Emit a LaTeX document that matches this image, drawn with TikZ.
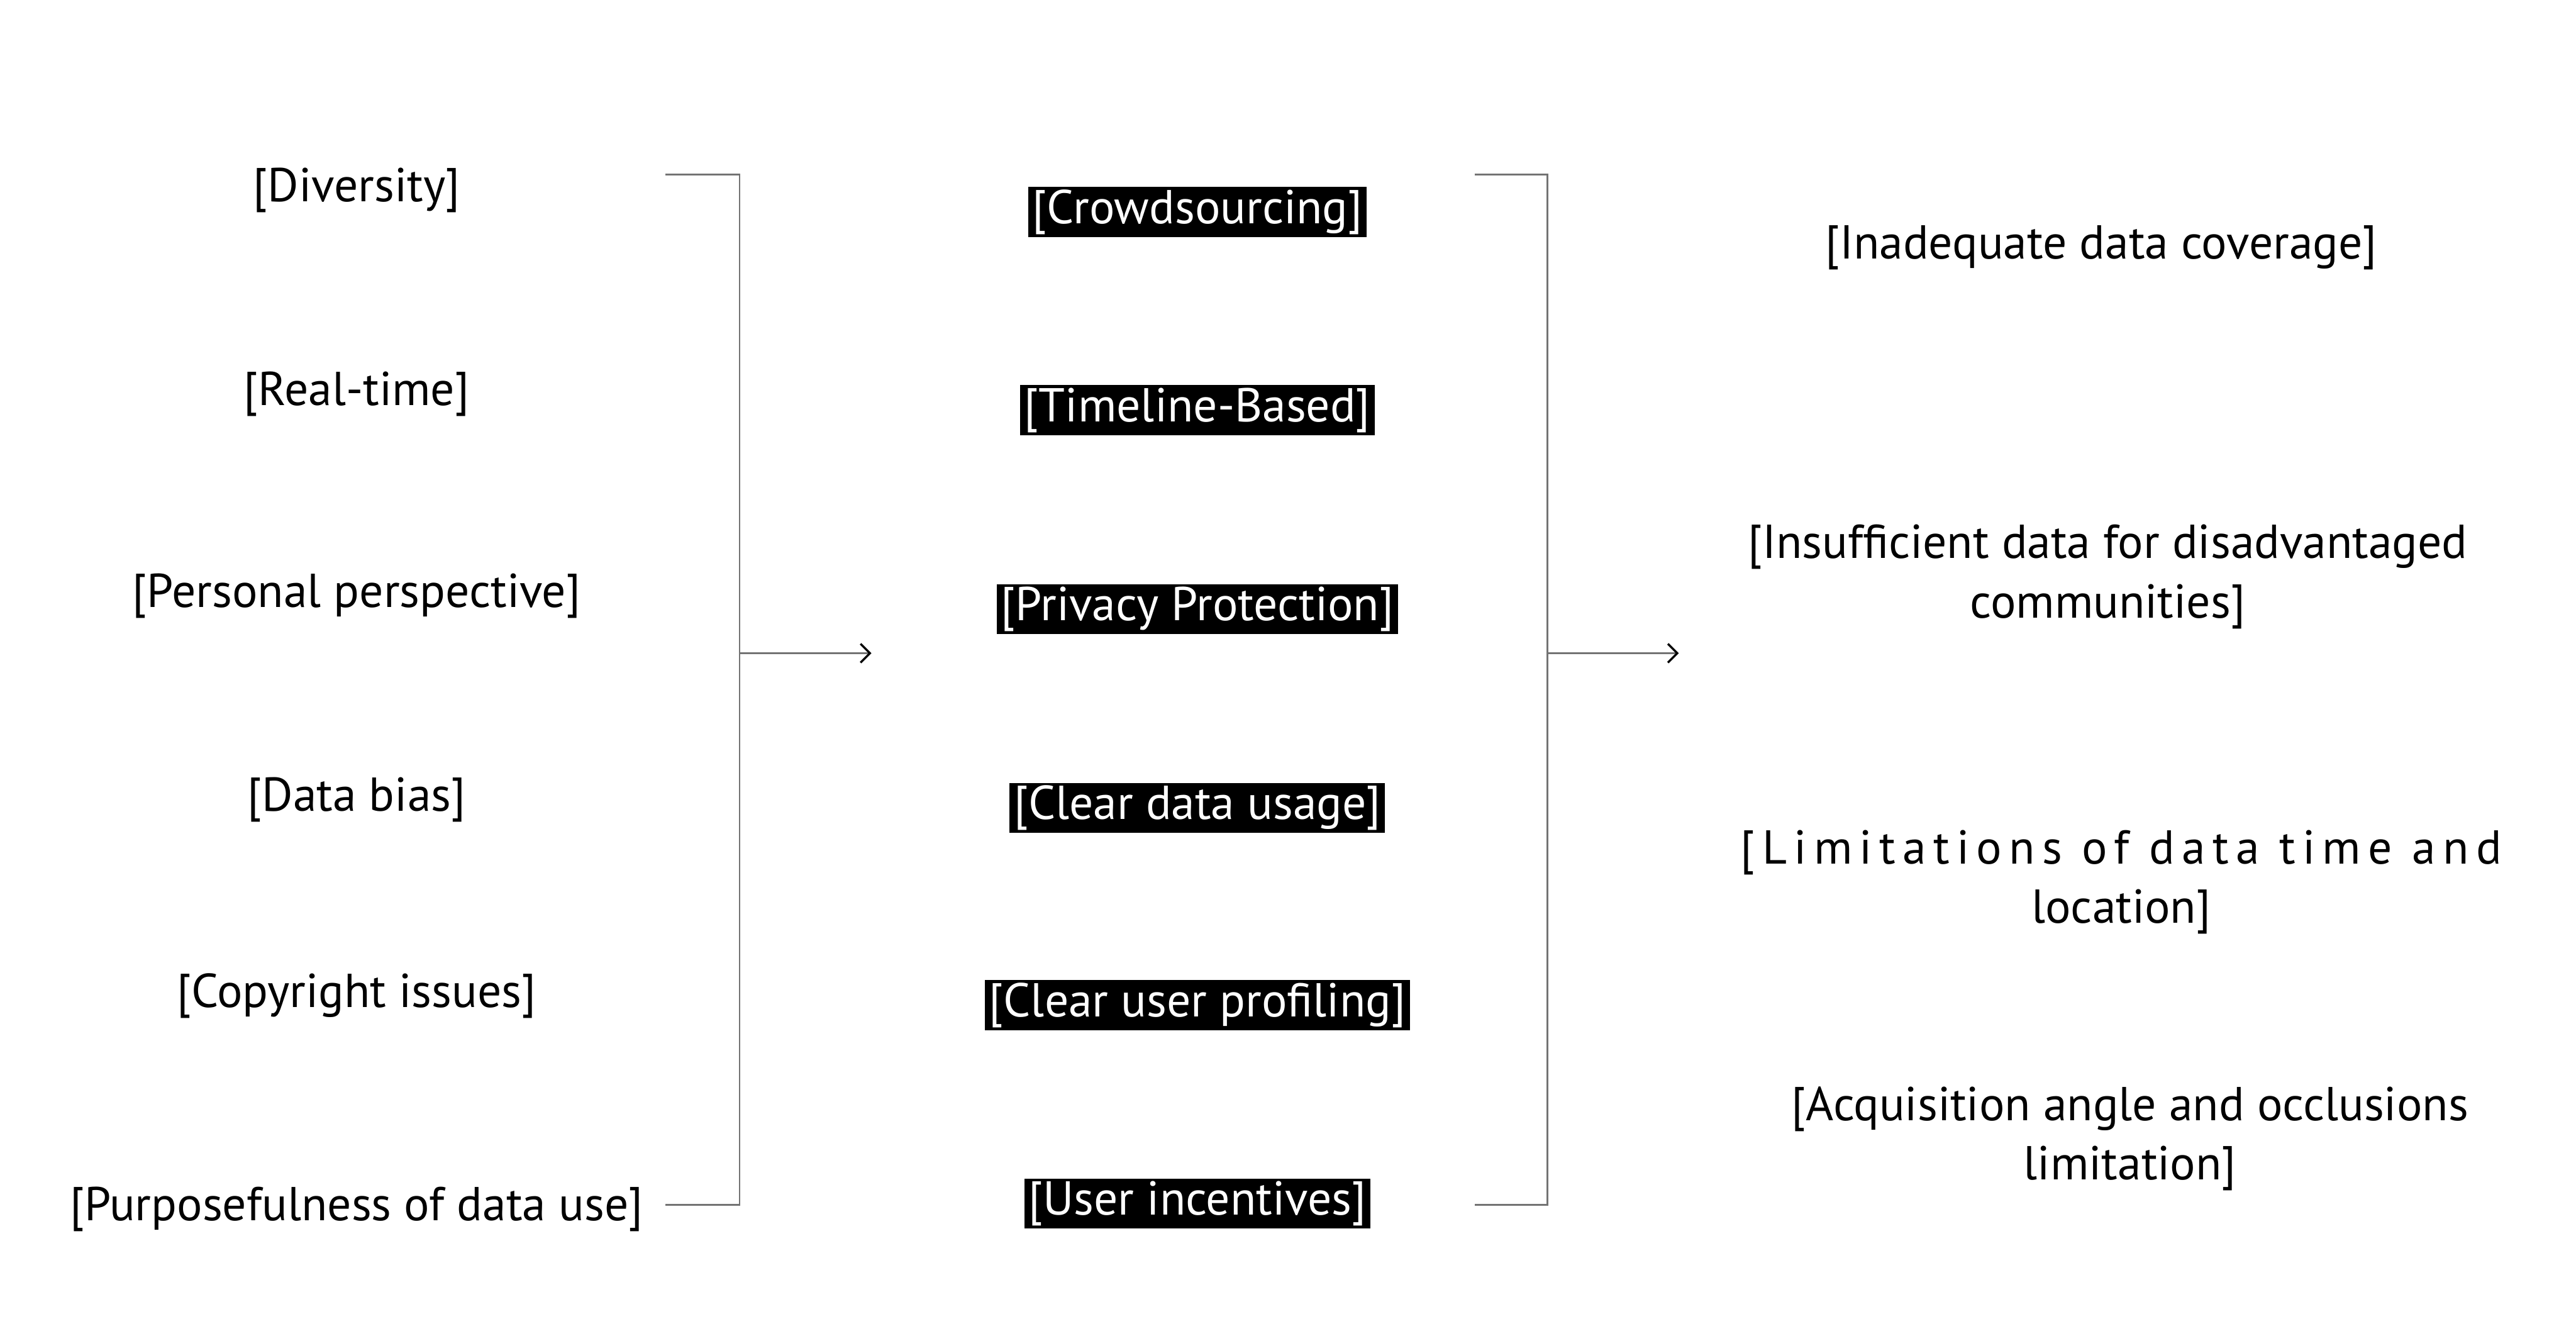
\documentclass[tikz,border=0pt]{standalone}
\usepackage{fontspec}
\setmainfont{PT Sans}
\usetikzlibrary{arrows.meta}

\begin{document}
\begin{tikzpicture}[x=1cm,y=-1cm,
  lbl/.style={font=\fontsize{23}{28.7}\selectfont, align=center, inner sep=0pt},
  blk/.style={lbl, fill=black, text=white, minimum height=0.85cm, inner xsep=0.07cm},
  brk/.style={draw=black!55, line width=0.03cm},
  arr/.style={brk, -{Straight Barb[length=0.16cm,width=0.32cm,black,line width=0.035cm]}}]
 \useasboundingbox (0,0) rectangle (43.78,22.41);

 % left column
 \node[lbl] (div) at (6.06,3.23) {[Diversity]};
 \node[lbl] (rt) at (6.06,6.70) {[Real-time]};
 \node[lbl] (pers) at (6.06,10.13) {[Personal perspective]};
 \node[lbl] (bias) at (6.06,13.59) {[Data bias]};
 \node[lbl] (copy) at (6.06,16.92) {[Copyright issues]};
 \node[lbl] (purp) at (6.06,20.55) {[Purposefulness of data use]};

 % middle column
 \node[blk] (crowd) at (20.35,3.60) {[Crowdsourcing]};
 \node[blk] (time) at (20.35,6.97) {[Timeline-Based]};
 \node[blk] (priv) at (20.35,10.35) {[Privacy Protection]};
 \node[blk] (usage) at (20.35,13.73) {[Clear data usage]};
 \node[blk] (prof) at (20.35,17.08) {[Clear user profiling]};
 \node[blk] (inc) at (20.35,20.45) {[User incentives]};

 % right column
 \node[lbl] (cov) at (35.71,4.21) {[Inadequate data coverage]};
 \node[lbl] (comm) at (35.82,9.80) {[Insufficient data for disadvantaged\\communities]};
 \node[lbl] (loc) at (36.05,14.99) {{\addfontfeature{LetterSpace=15}[Limitations of data time and}\\location]};
 \node[lbl] (occ) at (36.20,19.35) {[Acquisition angle and occlusions\\limitation]};

 % brackets
 \coordinate (lt) at (11.31,2.97);
 \coordinate (lm) at (12.57,11.10);
 \coordinate (lb) at (11.31,20.47);
 \coordinate (la) at (14.81,11.10);
 \draw[brk] (lt) -| (lm) |- (lb);
 \draw[arr] (lm) -- (la);

 \coordinate (rt) at (25.06,2.97);
 \coordinate (rm) at (26.30,11.10);
 \coordinate (rb) at (25.06,20.47);
 \coordinate (ra) at (28.53,11.10);
 \draw[brk] (rt) -| (rm) |- (rb);
 \draw[arr] (rm) -- (ra);
\end{tikzpicture}
\end{document}
